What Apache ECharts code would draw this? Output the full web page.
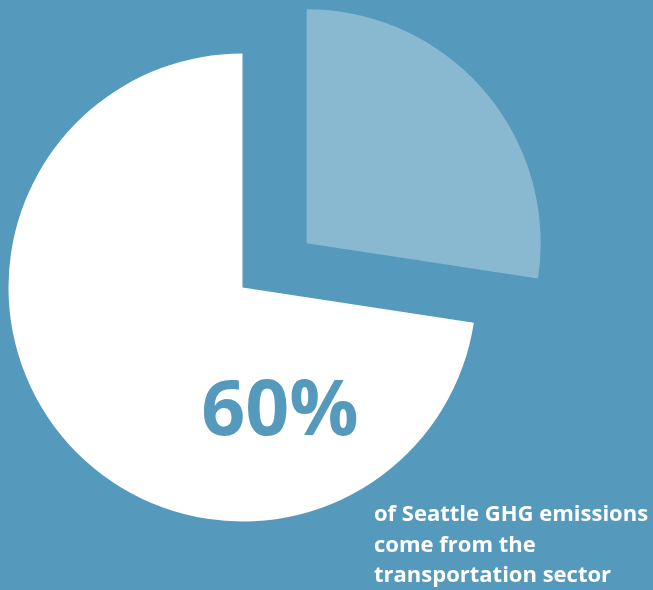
<!DOCTYPE html>
<html>
<head>
<meta charset="utf-8">
<script src="https://cdn.jsdelivr.net/npm/echarts@6/dist/echarts.min.js"></script>
<style>
html,body{margin:0;padding:0;background:#559abc;}
#main{width:653px;height:590px;}
</style>
</head>
<body>
<div id="main"></div>
<script>
// Data
const categories = ['Other sectors', 'Transportation sector'];
const shares = [27.4, 72.6];
const headline = '60%';
const captionLines = ['of Seattle GHG emissions', 'come from the', 'transportation sector'];

const BG = '#559abc';
const LIGHT = '#89b9d1';
const WHITE = '#ffffff';

function pieData(visibleIndex, color) {
  return categories.map((c, i) => ({
    name: c,
    value: shares[i],
    itemStyle: { color: i === visibleIndex ? color : 'rgba(0,0,0,0)' }
  }));
}

const chart = echarts.init(document.getElementById('main'), null, { renderer: 'canvas' });
chart.setOption({
  backgroundColor: BG,
  animation: false,
  series: [
    {
      type: 'pie',
      center: [242.5, 287.5],
      radius: 234,
      startAngle: 90,
      clockwise: true,
      silent: true,
      label: { show: false },
      labelLine: { show: false },
      data: pieData(1, WHITE)
    },
    {
      type: 'pie',
      center: [306.7, 243.3],
      radius: 234,
      startAngle: 90,
      clockwise: true,
      silent: true,
      label: { show: false },
      labelLine: { show: false },
      data: pieData(0, LIGHT)
    }
  ],
  graphic: [
    {
      type: 'text',
      z: 100,
      style: {
        text: headline,
        x: 280, y: 413,
        align: 'center', verticalAlign: 'middle',
        font: 'bold 77px "Open Sans"',
        fill: BG
      }
    },
    ...captionLines.map((t, i) => ({
      type: 'text',
      z: 100,
      style: {
        text: t,
        x: 374, y: 515 + i * 30.5,
        align: 'left', verticalAlign: 'middle',
        font: 'bold 22px "Open Sans"',
        fill: WHITE
      }
    }))
  ]
});
</script>
</body>
</html>
